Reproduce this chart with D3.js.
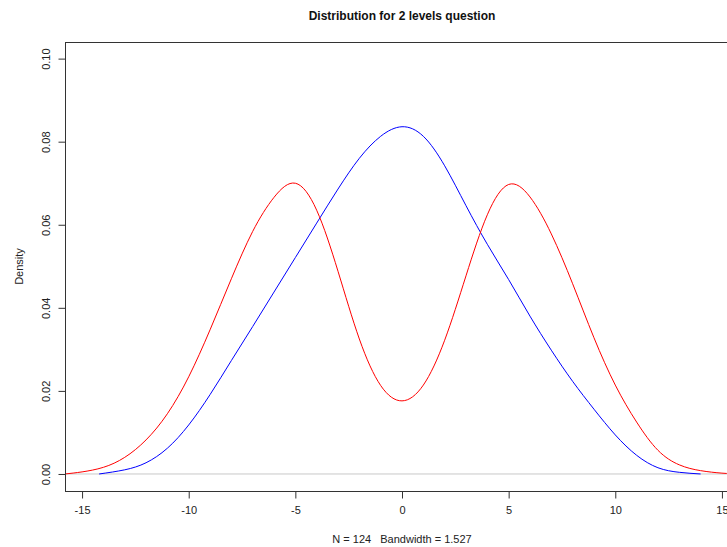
<!DOCTYPE html>
<html>
<head>
<meta charset="utf-8">
<script src="https://cdn.jsdelivr.net/npm/d3@7"></script>
<style>
  body { margin: 0; background: #fff; }
  svg { display: block; font-family: "Liberation Sans", Arial, sans-serif; }
</style>
</head>
<body>
<div id="chart"></div>
<script>
// density estimates
var redX = [-15.8, -15, -14, -13, -12, -11, -10, -9, -8, -7, -6, -5, -4, -3, -2, -1, 0,
            1, 2, 3, 4, 5, 6, 7, 8, 9, 10, 11, 12, 13, 14, 15, 15.8];
var redY = [0.0000, 0.0005, 0.0016, 0.0040, 0.0082, 0.0145, 0.0234, 0.0347, 0.0470, 0.0584, 0.0666, 0.0700,
            0.0635, 0.0488, 0.0325, 0.0213, 0.0176, 0.0214, 0.0322, 0.0477, 0.0624, 0.0697, 0.0667,
            0.0578, 0.0458, 0.0328, 0.0214, 0.0125, 0.0057, 0.0022, 0.0008, 0.0002, 0.0000];

var blueX = [-14.2, -13, -12, -11, -10, -9, -8, -7, -6, -5, -4, -3, -2, -1, 0,
             1, 2, 3, 4, 5, 6, 7, 8, 9, 10, 11, 12, 13, 14];
var blueY = [0.0000, 0.0010, 0.0027, 0.0062, 0.0118, 0.0191, 0.0273, 0.0355, 0.0438, 0.0521, 0.0604, 0.0686,
             0.0760, 0.0813, 0.0836, 0.0813, 0.0742, 0.0646, 0.0553, 0.0468, 0.0380, 0.0298, 0.0223,
             0.0156, 0.0094, 0.0045, 0.0015, 0.0004, 0.0000];

var xTicks = [-15, -10, -5, 0, 5, 10, 15];
var yTicks = [0.00, 0.02, 0.04, 0.06, 0.08, 0.10];

var chartTitle = 'Distribution for 2 levels question';
var xLabel = 'N = 124   Bandwidth = 1.527';
var yLabel = 'Density';

(function() {
    'use strict';

    var width = 727, height = 547;
    var m = { left: 65, right: 739, top: 42, bottom: 491 };

    var x = d3.scaleLinear().domain([-15.8, 15.8]).range([m.left, m.right]);
    var y = d3.scaleLinear().domain([-0.0041, 0.104]).range([m.bottom, m.top]);

    var svg = d3.select('#chart').append('svg')
        .attr('width', width)
        .attr('height', height);

    svg.append('clipPath').attr('id', 'plotclip')
      .append('rect')
        .attr('x', m.left).attr('y', m.top)
        .attr('width', m.right - m.left).attr('height', m.bottom - m.top);

    var plot = svg.append('g').attr('clip-path', 'url(#plotclip)');

    // zero reference line
    plot.append('line')
        .attr('x1', m.left).attr('x2', m.right)
        .attr('y1', y(0)).attr('y2', y(0))
        .attr('stroke', '#c8c8c8')
        .attr('stroke-width', 1);

    var line = d3.line()
        .x(function(d) { return x(d[0]); })
        .y(function(d) { return y(Math.max(0, d[1])); })
        .curve(d3.curveNatural);

    plot.append('path')
        .datum(d3.zip(blueX, blueY))
        .attr('fill', 'none')
        .attr('stroke', '#0000ff')
        .attr('stroke-width', 1)
        .attr('d', line);

    plot.append('path')
        .datum(d3.zip(redX, redY))
        .attr('fill', 'none')
        .attr('stroke', '#ff0000')
        .attr('stroke-width', 1)
        .attr('d', line);

    // box
    svg.append('rect')
        .attr('x', m.left + 0.5).attr('y', m.top + 0.5)
        .attr('width', m.right - m.left).attr('height', m.bottom - m.top)
        .attr('fill', 'none')
        .attr('stroke', '#333')
        .attr('stroke-width', 1);

    // axes (R style hyphen minus)
    var xAxis = d3.axisBottom(x).tickValues(xTicks).tickSize(7).tickPadding(8)
        .tickFormat(function(d) { return String(d); });
    var gx = svg.append('g')
        .attr('transform', 'translate(0,' + (m.bottom + 0.5) + ')')
        .call(xAxis);
    gx.select('.domain').remove();
    gx.selectAll('line').attr('stroke', '#333');
    gx.selectAll('text').attr('fill', '#222').style('font-size', '11px');

    var yAxis = d3.axisLeft(y).tickValues(yTicks).tickSize(7)
        .tickFormat(function(d) { return d.toFixed(2); });
    var gy = svg.append('g')
        .attr('transform', 'translate(' + (m.left + 0.5) + ',0)')
        .call(yAxis);
    gy.select('.domain').remove();
    gy.selectAll('line').attr('stroke', '#333');
    gy.selectAll('text')
        .attr('fill', '#222')
        .style('font-size', '11px')
        .attr('x', 0).attr('y', 0).attr('dy', null)
        .attr('text-anchor', 'middle')
        .attr('transform', 'translate(-16,0) rotate(-90)');

    // titles
    svg.append('text')
        .attr('x', (m.left + m.right) / 2)
        .attr('y', 20)
        .attr('text-anchor', 'middle')
        .style('font-size', '12px')
        .style('font-weight', 'bold')
        .attr('fill', '#111')
        .text(chartTitle);

    svg.append('text')
        .attr('x', (m.left + m.right) / 2)
        .attr('y', 543)
        .attr('text-anchor', 'middle')
        .style('font-size', '11px')
        .style('white-space', 'pre')
        .attr('fill', '#222')
        .text(xLabel);

    svg.append('text')
        .attr('transform', 'translate(23,' + ((m.top + m.bottom) / 2) + ') rotate(-90)')
        .attr('text-anchor', 'middle')
        .style('font-size', '11px')
        .attr('fill', '#222')
        .text(yLabel);
})();
</script>
</body>
</html>
